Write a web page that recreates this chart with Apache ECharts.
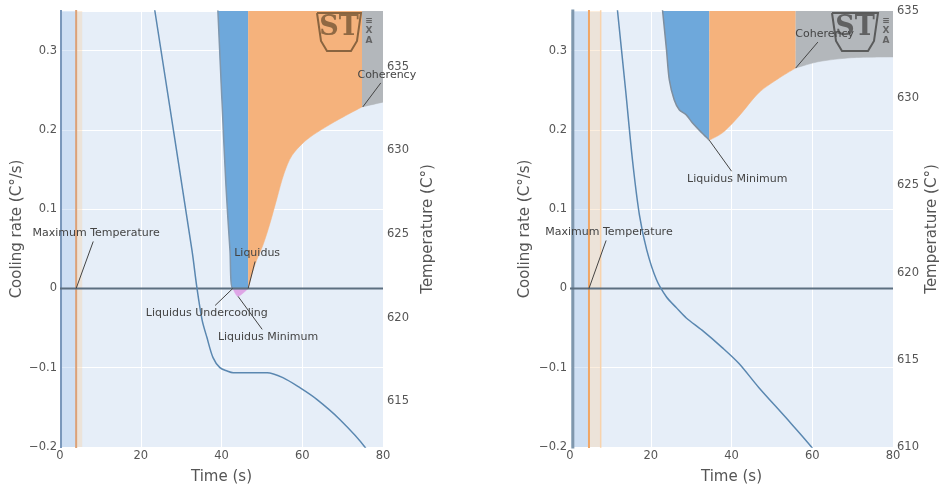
<!DOCTYPE html>
<html>
<head>
<meta charset="utf-8">
<title>Cooling curves</title>
<script src="https://cdn.jsdelivr.net/npm/echarts@6.0.0/dist/echarts.min.js"></script>
<style>
    html, body { margin: 0; padding: 0; background: #fff; }
    #chart { width: 941px; height: 491px; }
</style>
</head>
<body>
<div id="chart"></div>
<script>
(function (window) {
    "use strict";

    // ---- tick labels ----
    var timeTicks = [0, 20, 40, 60, 80];
    var rateTicks = [-0.2, -0.1, 0, 0.1, 0.2, 0.3];
    var tempTicksLeft = [615, 620, 625, 630, 635];
    var tempTicksRight = [610, 615, 620, 625, 630, 635];

    // ---- left panel: temperature (s, C) ----
    var tempLeft = [[20, 643.8], [23.5, 638.35], [32.7, 624.0], [33.9, 621.8], [35.2, 619.85],
        [36.4, 618.8], [37.9, 617.6], [39.6, 617.0], [41.4, 616.8], [42.9, 616.7], [47.8, 616.7],
        [51.3, 616.7], [55.2, 616.4], [59.4, 615.8], [63.6, 615.1], [69.3, 613.9], [75.5, 612.25], [78, 611.0]];
    // left panel: cooling rate pieces (s, C/s)
    var rateLeftStart = [[0.25, 0.5], [0.25, -0.4]];
    var rateLeftMax = [[4, -0.4], [4, 0.5]];
    var rateLeftBlue = [[39.1, 0.351], [40.1, 0.238], [41.1, 0.13], [42.1, 0.048], [42.8, 0], [46.6, 0]];
    var rateLeftPink = [[42.8, 0], [44.1, -0.010], [45.3, -0.006], [46.6, 0]];
    var rateLeftOrange = [[46.6, 0], [48.3, 0.030], [50.3, 0.055], [52.0, 0.082], [53.7, 0.113],
        [55.5, 0.145], [57.5, 0.168], [61.2, 0.188], [67.6, 0.209], [74.8, 0.229]];
    var rateLeftGray = [[74.8, 0.229], [80, 0.235]];
    var bandsLeft = [[0.25, 4, 'blue'], [4, 5.5, 'beige']];

    // ---- right panel: temperature (s, C) ----
    var tempRight = [[10.5, 638.0], [11.8, 634.94], [13.8, 630.4], [15.5, 626.4], [17.2, 623.3],
        [19.0, 621.3], [21.4, 619.6], [23.9, 618.6], [26.3, 618.0], [28.8, 617.4], [32.7, 616.7],
        [37.7, 615.7], [41.8, 614.8], [46.8, 613.4], [53.4, 611.7], [59.8, 610.0], [62, 609.2]];
    // right panel: cooling rate pieces (s, C/s)
    var rateRightStart = [[0.7, 0.5], [0.7, -0.4]];
    var rateRightMax = [[4.7, -0.4], [4.7, 0.5]];
    var rateRightAfter = [[7.6, -0.4], [7.6, 0.5]];
    var rateRightBlue = [[22.9, 0.352], [23.9, 0.301], [24.6, 0.263], [25.8, 0.238], [27.1, 0.225],
        [28.8, 0.219], [30.3, 0.209], [32.7, 0.196], [34.5, 0.187]];
    var rateRightOrange = [[34.5, 0.187], [37.7, 0.196], [41.8, 0.217], [46.8, 0.247], [52.0, 0.266], [55.9, 0.278]];
    var rateRightGray = [[55.9, 0.278], [61.5, 0.286], [69.7, 0.291], [80, 0.292]];
    var bandsRight = [[0.7, 4.7, 'blue'], [4.7, 7.6, 'beige']];

    // annotations: point in data units, text offset in px (like plotly ax/ay)
    var notesLeft = [
        { text: 'Maximum Temperature', x: 4, y: 0, ax: 20, ay: -55 },
        { text: 'Liquidus', x: 46.6, y: 0, ax: 9, ay: -35 },
        { text: 'Liquidus Undercooling', x: 42.8, y: 0, ax: -26, ay: 25 },
        { text: 'Liquidus Minimum', x: 44.1, y: -0.010, ax: 30, ay: 41 },
        { text: 'Coherency', x: 75, y: 0.229, ax: 24, ay: -32 }
    ];
    var notesRight = [
        { text: 'Maximum Temperature', x: 4.7, y: 0, ax: 20, ay: -56 },
        { text: 'Liquidus Minimum', x: 34.5, y: 0.187, ax: 28, ay: 39 },
        { text: 'Coherency', x: 55.9, y: 0.278, ax: 29, ay: -34 }
    ];

    var FONT = 'DejaVu Sans';
    var TEXT = '#555';
    var annFont = '11px "DejaVu Sans"';
    var bandColors = { blue: 'rgba(160,195,235,0.35)', beige: 'rgba(246,205,160,0.35)' };

    var fmt_rate = function (v) {
        v = Math.round(v * 10) / 10;
        return v < 0 ? '\u2212' + Math.abs(v) : String(v);
    };

    var x_axis = function (grid) {
        return {
            type: 'value', gridIndex: grid, min: 0, max: 80, interval: 20,
            name: 'Time (s)', nameLocation: 'middle', nameGap: 23,
            nameTextStyle: { fontFamily: FONT, fontSize: 15, color: TEXT },
            axisLine: { show: false }, axisTick: { show: false },
            axisLabel: { margin: 3, fontFamily: FONT, fontSize: 11.5, color: TEXT, customValues: timeTicks },
            splitLine: { show: true, lineStyle: { color: '#ffffff', width: 1 } }
        };
    };
    var rate_axis = function (grid, gap) {
        return {
            type: 'value', gridIndex: grid, position: 'left', min: -0.2, max: 0.35, interval: 0.1,
            name: 'Cooling rate (C\u00b0/s)', nameLocation: 'middle', nameRotate: 90, nameGap: gap,
            nameTextStyle: { fontFamily: FONT, fontSize: 15, color: TEXT },
            axisLine: { show: false }, axisTick: { show: false },
            axisLabel: { margin: 3, fontFamily: FONT, fontSize: 11.5, color: TEXT, customValues: rateTicks, formatter: fmt_rate },
            splitLine: { show: true, lineStyle: { color: '#ffffff', width: 1 } }
        };
    };
    var temp_axis = function (grid, min, max, ticks, gap) {
        return {
            type: 'value', gridIndex: grid, position: 'right', min: min, max: max,
            name: 'Temperature (C\u00b0)', nameLocation: 'middle', nameRotate: 90, nameGap: gap,
            nameTextStyle: { fontFamily: FONT, fontSize: 15, color: TEXT },
            axisLine: { show: false }, axisTick: { show: false },
            axisLabel: { margin: 4, fontFamily: FONT, fontSize: 11.5, color: TEXT, customValues: ticks },
            splitLine: { show: false }
        };
    };

    var plain_line = function (grid, yIdx, data, color, width, z, smooth) {
        return {
            type: 'line', xAxisIndex: grid, yAxisIndex: yIdx, data: data, showSymbol: false, symbol: 'none',
            smooth: smooth || false,
            lineStyle: { color: color, width: width }, z: z || 2, silent: true
        };
    };
    var fill_piece = function (grid, data, color, origin, stroke) {
        return {
            type: 'line', xAxisIndex: grid, yAxisIndex: grid * 2, data: data, symbol: 'none',
            smooth: 0.3,
            lineStyle: { color: stroke || color, width: stroke ? 1.5 : 0.5 },
            areaStyle: { color: color, opacity: 1, origin: origin }, z: 2, silent: true
        };
    };
    var band_series = function (grid, bands) {
        return {
            type: 'line', xAxisIndex: grid, yAxisIndex: grid * 2, data: [], silent: true, z: 1,
            markArea: {
                silent: true,
                data: bands.map(function (b) {
                    return [{ xAxis: b[0], itemStyle: { color: bandColors[b[2]] } }, { xAxis: b[1] }];
                })
            }
        };
    };

    var BLUE = '#6ea8db', ORANGE = '#f5b27c', GRAY = '#b3b7bb', PINK = '#dea6e6';

    var option = {
        animation: false,
        backgroundColor: '#ffffff',
        grid: [
            { left: 60, right: 558, top: 11, bottom: 44, show: true, backgroundColor: '#e6eef8', borderWidth: 0 },
            { left: 570, right: 46, top: 11, bottom: 44, show: true, backgroundColor: '#e6eef8', borderWidth: 0 }
        ],
        xAxis: [x_axis(0), x_axis(1)],
        yAxis: [
            rate_axis(0, 35),
            temp_axis(0, 612.25, 638.35, tempTicksLeft, 38),
            rate_axis(1, 37),
            temp_axis(1, 610, 635, tempTicksRight, 32)
        ],
        series: [
            band_series(0, bandsLeft),
            fill_piece(0, rateLeftBlue, BLUE, 'end', '#7f97ae'),
            fill_piece(0, rateLeftPink, PINK, 'auto'),
            fill_piece(0, rateLeftOrange, ORANGE, 'end'),
            fill_piece(0, rateLeftGray, GRAY, 'end'),
            plain_line(0, 0, rateLeftStart, '#7a98bb', 2),
            plain_line(0, 0, rateLeftMax, '#dca277', 2),
            plain_line(0, 0, [[0, 0], [80, 0]], '#5c6f80', 2, 3),
            plain_line(0, 1, tempLeft, '#5a87b0', 1.5, 4, 0.3),

            band_series(1, bandsRight),
            fill_piece(1, rateRightBlue, BLUE, 'end', '#7f8f9f'),
            fill_piece(1, rateRightOrange, ORANGE, 'end'),
            fill_piece(1, rateRightGray, GRAY, 'end'),
            plain_line(1, 2, rateRightStart, '#7f97ad', 3),
            plain_line(1, 2, rateRightMax, '#f0a666', 2),
            plain_line(1, 2, rateRightAfter, '#f7d3ad', 1.5),
            plain_line(1, 2, [[0, 0], [80, 0]], '#5c6f80', 2, 3),
            plain_line(1, 3, tempRight, '#5a87b0', 1.5, 4, 0.3)
        ]
    };

    var measure = (function () {
        var ctx = document.createElement('canvas').getContext('2d');
        return function (text) {
            ctx.font = annFont;
            return ctx.measureText(text).width;
        };
    })();

    var build_notes = function (chart, notes, grid) {
        var els = [];
        notes.forEach(function (a) {
            var p = chart.convertToPixel({ xAxisIndex: grid, yAxisIndex: grid * 2 }, [a.x, a.y]);
            var cx = p[0] + a.ax, cy = p[1] + a.ay;
            var hw = measure(a.text) / 2 + 2, hh = 8;
            var dx = p[0] - cx, dy = p[1] - cy;
            var s = Math.min(dx ? hw / Math.abs(dx) : Infinity, dy ? hh / Math.abs(dy) : Infinity);
            els.push({
                type: 'line', silent: true, z: 50,
                shape: { x1: cx + dx * s, y1: cy + dy * s, x2: p[0], y2: p[1] },
                style: { stroke: '#444', lineWidth: 1 }
            });
            els.push({
                type: 'text', silent: true, z: 51, x: cx, y: cy,
                style: { text: a.text, font: annFont, fill: '#444', align: 'center', verticalAlign: 'middle' }
            });
        });
        return els;
    };

    // watermark logo (cup with "ST"), flat elements
    var logo = function (x, y, w, color) {
        return [
            {
                type: 'polyline', silent: true, z: 40,
                shape: { points: [[x, y], [x + w, y], [x + w - 4, y + 28], [x + w - 10, y + 38], [x + 10, y + 38], [x + 4, y + 28], [x, y]] },
                style: { stroke: color, lineWidth: 2, fill: 'none', opacity: 0.8 }
            },
            {
                type: 'text', silent: true, z: 41, x: x + w / 2, y: y + 15,
                style: { text: 'ST', fontFamily: 'DejaVu Serif', fontWeight: 'bold', fontSize: 27, fill: color, opacity: 0.75, align: 'center', verticalAlign: 'middle' }
            },
            {
                type: 'text', silent: true, z: 41, x: x + w + 8, y: y + 18,
                style: { text: '\u2261\nX\nA', fontFamily: 'DejaVu Sans', fontWeight: 'bold', fontSize: 9, lineHeight: 10, fill: '#555', opacity: 0.85, align: 'center', verticalAlign: 'middle' }
            }
        ];
    };

    var chart;
    var load = function () {
        chart = echarts.init(document.getElementById('chart'), null, { renderer: 'canvas' });
        chart.setOption(option);
        var els = build_notes(chart, notesLeft, 0).concat(build_notes(chart, notesRight, 1));
        els = els.concat(logo(317, 13, 44, '#6e5030'), logo(832, 13, 46, '#444444'));
        chart.setOption({ graphic: { elements: els } });
    };

    window.addEventListener('load', load, false);
})(window);
</script>
</body>
</html>
